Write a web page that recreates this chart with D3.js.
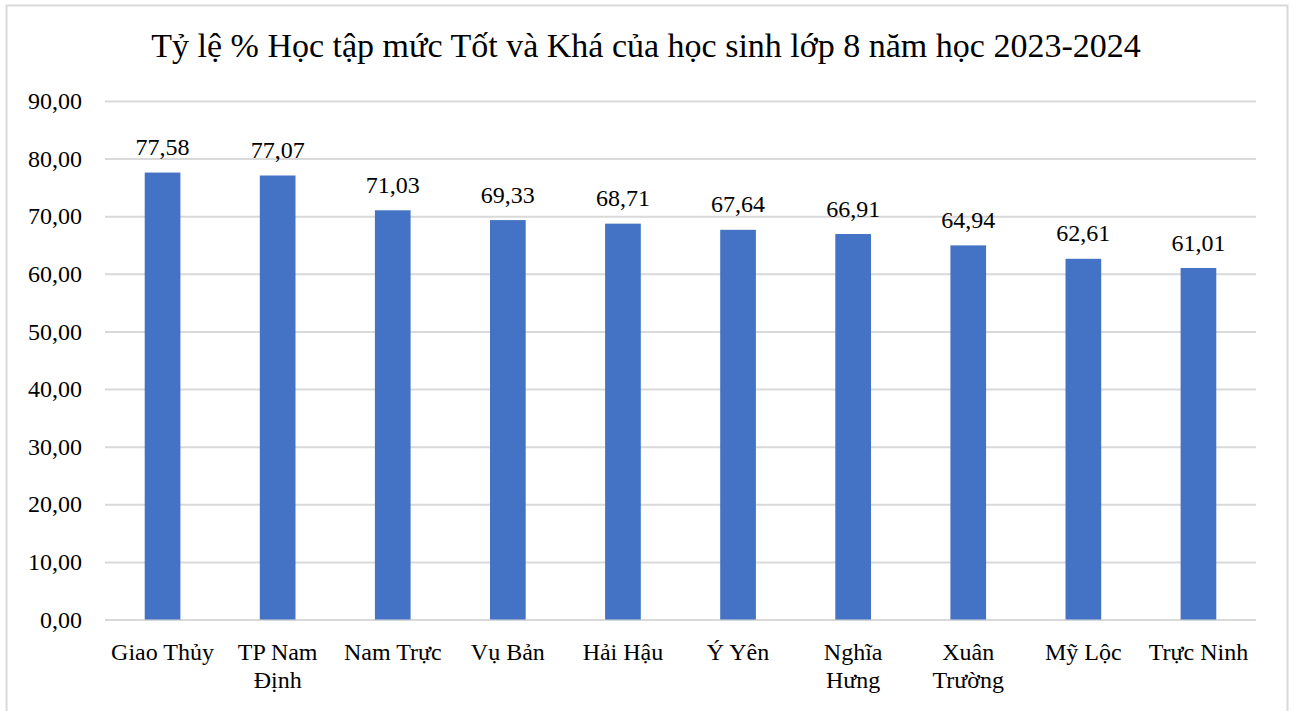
<!DOCTYPE html>
<html><head><meta charset="utf-8">
<script src="https://cdn.jsdelivr.net/npm/d3@7"></script>
<style>html,body{margin:0;padding:0;background:#fff;}svg{display:block;}
text{font-family:"Liberation Serif","Times New Roman",Tinos,serif;}</style>
</head><body>
<svg id="c" width="1295" height="711"></svg>
<script>
const title = "Tỷ lệ % Học tập mức Tốt và Khá của học sinh lớp 8 năm học 2023-2024";
const categories = ["Giao Thủy","TP Nam Định","Nam Trực","Vụ Bản","Hải Hậu","Ý Yên","Nghĩa Hưng","Xuân Trường","Mỹ Lộc","Trực Ninh"];
const tickLabels = [["Giao Thủy"],["TP Nam","Định"],["Nam Trực"],["Vụ Bản"],["Hải Hậu"],["Ý Yên"],["Nghĩa","Hưng"],["Xuân","Trường"],["Mỹ Lộc"],["Trực Ninh"]];
const values = [77.58,77.07,71.03,69.33,68.71,67.64,66.91,64.94,62.61,61.01];
const yTicks = [0,10,20,30,40,50,60,70,80,90];

const svg = d3.select("#c");
const m = {left:105, right:1256, top:101, bottom:619.5};

svg.append("rect").attr("x",6.5).attr("y",5.5).attr("width",1281).attr("height",720)
  .attr("fill","#fff").attr("stroke","#d9d9d9").attr("stroke-width",2);

const x = d3.scaleBand().domain(categories).range([m.left,m.right]).paddingInner(0.69).paddingOuter(0.345);
const y = d3.scaleLinear().domain([0,90]).range([m.bottom,m.top]);
const fmt = v => d3.format(".2f")(v).replace(".",",");

const ya = svg.append("g").attr("transform",`translate(${m.left},0)`)
  .call(d3.axisLeft(y).tickValues(yTicks).tickSize(-(m.right-m.left)).tickPadding(23).tickFormat(fmt));
ya.attr("font-family",null);
ya.select(".domain").remove();
ya.selectAll(".tick line").attr("stroke","#d9d9d9").attr("stroke-width",2);
ya.selectAll(".tick text").style("font-size","24px").attr("fill","#000");

svg.append("g").selectAll("text").data(values).join("text")
  .attr("x",(d,i)=>x(categories[i])+x.bandwidth()/2).attr("y",d=>y(d)-17.5)
  .attr("text-anchor","middle").style("font-size","24px").attr("fill","#000")
  .text(fmt);

svg.append("g").selectAll("rect").data(values).join("rect")
  .attr("x",(d,i)=>x(categories[i])).attr("width",x.bandwidth())
  .attr("y",d=>y(d)).attr("height",d=>y(0)-y(d)).attr("fill","#4472C4");

const xa = svg.append("g").attr("transform",`translate(0,${m.bottom})`)
  .call(d3.axisBottom(x).tickSize(0).tickFormat(""));
xa.attr("font-family",null);
xa.select(".domain").remove();
xa.selectAll(".tick").each(function(d,i){
  const t = d3.select(this).append("text").style("font-size","24px")
    .attr("fill","#000").attr("text-anchor","middle");
  tickLabels[i].forEach((ln,j)=>t.append("tspan").attr("x",0).attr("y",40+j*28.5).text(ln));
});

svg.append("text").attr("x",646).attr("y",57).attr("text-anchor","middle")
  .style("font-size","34px").attr("fill","#000").text(title);
</script>
</body></html>
